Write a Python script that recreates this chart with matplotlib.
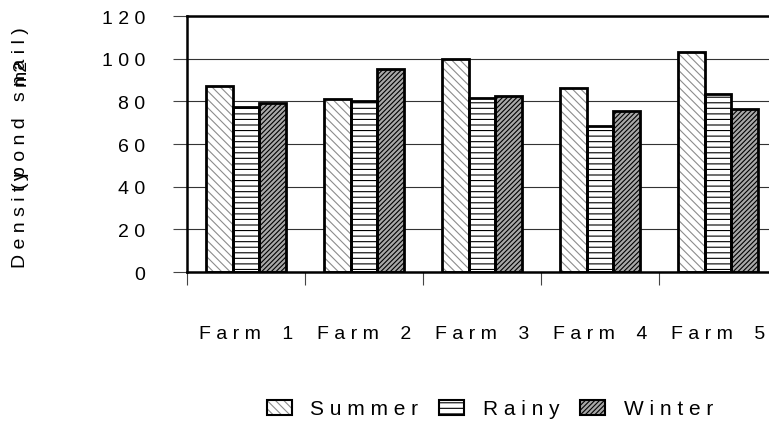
import numpy as np
import matplotlib
matplotlib.use("Agg")
import matplotlib.pyplot as plt
from matplotlib.patches import Patch

plt.rcParams['font.family'] = ['Liberation Sans', 'DejaVu Sans']
plt.rcParams['hatch.linewidth'] = 0.8

farms = ["Farm 1", "Farm 2", "Farm 3", "Farm 4", "Farm 5"]
seasons = ["Summer", "Rainy", "Winter"]
summer = [87.3, 81.1, 99.8, 86.1, 103.0]
rainy = [77.5, 80.3, 81.4, 68.3, 83.4]
winter = [79.2, 95.2, 82.3, 75.6, 76.4]
y_ticks = [0, 20, 40, 60, 80, 100, 120]


def spaced(s, word_gap=" "):
    # letter-spaced text; word_gap is added inside each word break
    return " ".join(word_gap if c == " " else c for c in s)


fig = plt.figure(figsize=(7.69, 4.27), dpi=100)
# plot area runs past the right edge of the figure
ax = fig.add_axes([187 / 769, 1 - 273 / 427, 590 / 769, 256 / 427])

x = np.arange(len(farms)) + 0.5
w = 0.226
# (face, hatch colour, hatch)
styles = [("white", "#8c8c8c", "\\\\\\\\"), ("white", "black", "---"),
          ("#a8a8a8", "black", "///////")]
handles = []
for i, (vals, (fc, hc, h)) in enumerate(zip([summer, rainy, winter], styles)):
    pos = x + (i - 1) * w
    ax.bar(pos, vals, w, color=fc, edgecolor=hc, hatch=h, lw=0, zorder=2)
    ax.bar(pos, vals, w, fill=False, edgecolor="black", lw=2.0, zorder=3)
    handles.append((Patch(facecolor=fc, edgecolor=hc, hatch=h, lw=0),
                    Patch(fill=False, edgecolor="black", lw=1.5)))

ax.set_xlim(0, 5)
ax.set_ylim(0, 120)
ax.set_yticks(y_ticks)
ax.set_yticklabels([spaced(str(v)) for v in y_ticks], fontsize=14)
ax.tick_params(axis="y", direction="out", length=10, width=0.8, color="#444", pad=20)
ax.yaxis.grid(True, color="#333", lw=0.8, zorder=0)
ax.set_axisbelow(True)

ax.set_xticks(x)
ax.set_xticklabels([spaced(f, "  ") for f in farms], fontsize=14)
ax.tick_params(axis="x", length=0, pad=38)
ax.set_xticks(np.arange(0, 6), minor=True)
ax.tick_params(axis="x", which="minor", direction="out", length=9, width=0.8, color="#444")

for s in ax.spines.values():
    s.set_linewidth(1.8)

# axis title, drawn in overlapping pieces
fig.text(21 / 769, 1 - 268 / 427, spaced("Density"), rotation=90, fontsize=14,
         ha="center", va="bottom")
fig.text(21 / 769, 1 - 189 / 427, spaced("(pond snail)"), rotation=90, fontsize=14,
         ha="center", va="bottom")
fig.text(21 / 769, 1 - 86 / 427, "m2", rotation=90, fontsize=14,
         ha="center", va="bottom")

fig.legend(handles, [spaced(s) for s in seasons], loc="center", ncol=3,
           bbox_to_anchor=(490 / 769, 1 - 410 / 427), frameon=False, fontsize=15,
           handlelength=1.2, handleheight=0.75, handletextpad=0.9, columnspacing=1.0)

fig.savefig("out.png", dpi=100)
